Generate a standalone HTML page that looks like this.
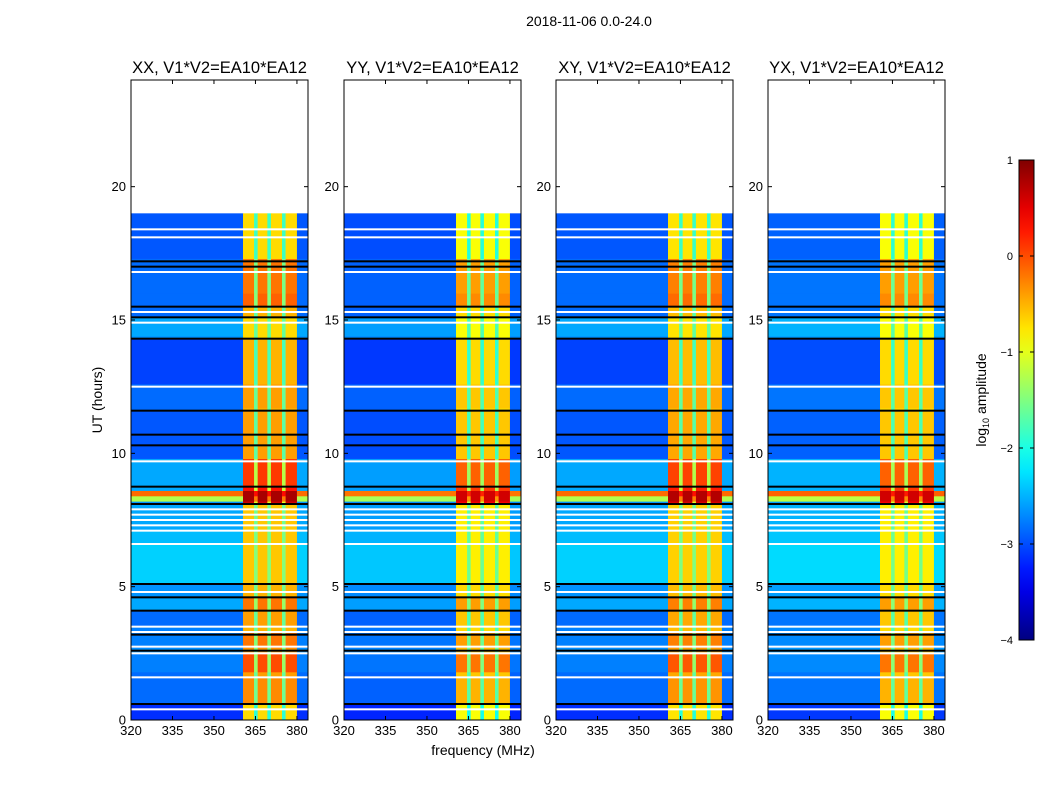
<!DOCTYPE html>
<html><head><meta charset="utf-8"><style>
body{margin:0;background:#fff;}
svg{display:block;font-family:"Liberation Sans","DejaVu Sans",sans-serif;}
</style></head><body>
<svg id="fig" width="1050" height="800" viewBox="0 0 1050 800">
<text x="589" y="26" font-size="14" text-anchor="middle">2018-11-06 0.0-24.0</text>
<text x="483" y="755" font-size="14" text-anchor="middle">frequency (MHz)</text>
<text transform="translate(102,400) rotate(-90)" font-size="14" text-anchor="middle">UT (hours)</text>
<g id="panels"></g>
<g id="cbar"></g>
</svg>
<script>
// ---- data ----
const panelTitles = ["XX, V1*V2=EA10*EA12","YY, V1*V2=EA10*EA12","XY, V1*V2=EA10*EA12","YX, V1*V2=EA10*EA12"];
const panelBgOffset = [-0.25, -0.3, -0.25, -0.2];
const panelRfiOffset = [0, -0.2, -0.05, -0.2];
// time segments: [startHour, endHour, backgroundLog, rfiLog]
const segStart = [0.0,0.6,1.6,1.8,2.5,2.7,3.3,3.5,4.1,4.6,5.1,6.6,7.1,8.1,8.2,8.4,8.6,8.8,9.8,10.3,10.7,11.6,11.7,12.6,14.3,14.4,15.1,15.5,16.0,17.3];
const segEnd   = [0.6,1.6,1.8,2.5,2.7,3.3,3.5,4.1,4.6,5.1,6.6,7.1,8.1,8.2,8.4,8.6,8.8,9.8,10.3,10.7,11.6,11.7,12.6,14.3,14.4,15.1,15.5,16.0,17.3,19.0];
const segBg    = [-2.9,-2.6,-2.6,-2.5,-2.4,-2.5,-2.5,-2.6,-2.3,-2.4,-2.1,-2.2,-2.3,-2.4,-1.0,0.1,-2.3,-2.3,-2.7,-2.7,-2.7,-2.6,-2.6,-2.8,-2.4,-2.3,-2.6,-2.6,-2.6,-2.7];
const segRfi   = [-0.7,-0.3,-0.4,0.0,-0.4,-0.2,-0.5,-0.4,-0.2,-0.5,-0.6,-0.6,-0.6,0.6,0.8,0.8,0.3,0.1,-0.4,-0.4,-0.4,-0.5,-0.4,-0.5,-0.7,-0.7,-0.5,-0.1,-0.2,-0.7];
// white (flagged) lines and black lines, hours
const whiteLines = [0.4,1.6,2.5,2.75,3.3,3.5,4.8,6.6,7.1,7.3,7.5,7.7,7.9,9.7,12.5,14.9,15.3,16.8,18.1,18.4];
const blackLines = [0.6,2.6,3.2,4.1,4.6,5.1,8.1,8.75,10.3,10.7,11.6,14.3,15.1,15.5,17.0,17.2];
// frequency bands [startMHz, endMHz, kind]
const bandStart = [320,360.5,364.5,365.8,369.3,370.6,374.6,375.9,380];
const bandEnd   = [360.5,364.5,365.8,369.3,370.6,374.6,375.9,380,384];
const bandKind  = ["bg","rfi","notch","rfi","notch","rfi","notch","rfi","bg"];
const xTicks = [320,335,350,365,380];
const yTicks = [0,5,10,15,20];
const cbTicks = [1,0,-1,-2,-3,-4];

// ---- helpers ----
const NS="http://www.w3.org/2000/svg";
function mk(tag,attrs,parent){const e=document.createElementNS(NS,tag);for(const k in attrs)e.setAttribute(k,attrs[k]);parent.appendChild(e);return e;}
function jet(v){let t=(v+4)/5;t=Math.max(0,Math.min(1,t));
 const c=x=>Math.round(255*Math.max(0,Math.min(1,x)));
 return `rgb(${c(1.5-Math.abs(4*t-3))},${c(1.5-Math.abs(4*t-2))},${c(1.5-Math.abs(4*t-1))})`;}
const panelLeft=[131,344,556,768], PW=177, PT=80, PB=720;
const fmt=v=>v<0?"\u2212"+Math.abs(v):String(v);

const root=document.getElementById('panels');
panelLeft.forEach((L,p)=>{
 const xs=f=>L+(f-320)/64*PW;
 const ys=h=>PB-(h/24)*(PB-PT);
 const g=mk('g',{},root);
 
 
 const hm=mk('g',{},g);
 
 
 for(let i=0;i<segStart.length;i++){
  for(let j=0;j<bandStart.length;j++){
   const bg=segBg[i]+panelBgOffset[p], rf=segRfi[i]+panelRfiOffset[p];
   let v=bg;
   if(bandKind[j]==="rfi")v=rf;
   else if(bandKind[j]==="notch")v=Math.max(bg,(bg+rf)/2);
   const r=mk('rect',{x:xs(bandStart[j]),y:ys(segEnd[i]),width:xs(bandEnd[j])-xs(bandStart[j])+0.3,height:ys(segStart[i])-ys(segEnd[i])+0.3,fill:jet(v)},hm);
   
   
  }
 }
 whiteLines.forEach(h=>{const r=mk('rect',{x:L,y:ys(h)-1,width:PW,height:2,fill:'#fff'},hm);
  
  });
 blackLines.forEach(h=>{const r=mk('rect',{x:L,y:ys(h)-1,width:PW,height:2,fill:'#000'},hm);
  
  });
 const fr=mk('rect',{x:L,y:PT,width:PW,height:PB-PT,fill:'none',stroke:'#000','stroke-width':1},g);
 
 
 const t=mk('text',{x:L+PW/2,y:PT-7,'font-size':16.5,'text-anchor':'middle'},g);t.textContent=panelTitles[p];
 
 
 xTicks.forEach(v=>{const x=xs(v);
  mk('line',{x1:x,x2:x,y1:PB,y2:PB-4,stroke:'#000'},g);mk('line',{x1:x,x2:x,y1:PT,y2:PT+4,stroke:'#000'},g);
  const tx=mk('text',{x:x,y:PB+15,'font-size':13,'text-anchor':'middle'},g);tx.textContent=v;
  
  });
 yTicks.forEach(v=>{const y=ys(v);
  mk('line',{x1:L,x2:L+4,y1:y,y2:y,stroke:'#000'},g);mk('line',{x1:L+PW,x2:L+PW-4,y1:y,y2:y,stroke:'#000'},g);
  const ty=mk('text',{x:L-5,y:y+4.5,'font-size':13,'text-anchor':'end'},g);ty.textContent=v;
  
  });
});

// colorbar
const cb=document.getElementById('cbar');
const defs=mk('defs',{},cb);
const gr=mk('linearGradient',{id:'jetg',x1:0,y1:1,x2:0,y2:0},defs);
for(let k=0;k<=20;k++){mk('stop',{offset:k/20,'stop-color':jet(-4+5*k/20)},gr);}
mk('rect',{x:1019,y:160,width:15,height:480,fill:'url(#jetg)',stroke:'#000','stroke-width':1},cb);
const cy=v=>640-(v+4)/5*480;
cbTicks.forEach(v=>{const y=cy(v);
 mk('line',{x1:1019,x2:1023,y1:y,y2:y,stroke:'#000'},cb);mk('line',{x1:1034,x2:1030,y1:y,y2:y,stroke:'#000'},cb);
 const t=mk('text',{x:1013,y:y+4,'font-size':11,'text-anchor':'end'},cb);t.textContent=fmt(v);
 
 });
const cl=mk('text',{transform:'translate(986,400) rotate(-90)','font-size':14,'text-anchor':'middle'},cb);
cl.innerHTML='log<tspan font-size="9" dy="3">10</tspan><tspan dy="-3"> amplitude</tspan>';


</script>
</body></html>
